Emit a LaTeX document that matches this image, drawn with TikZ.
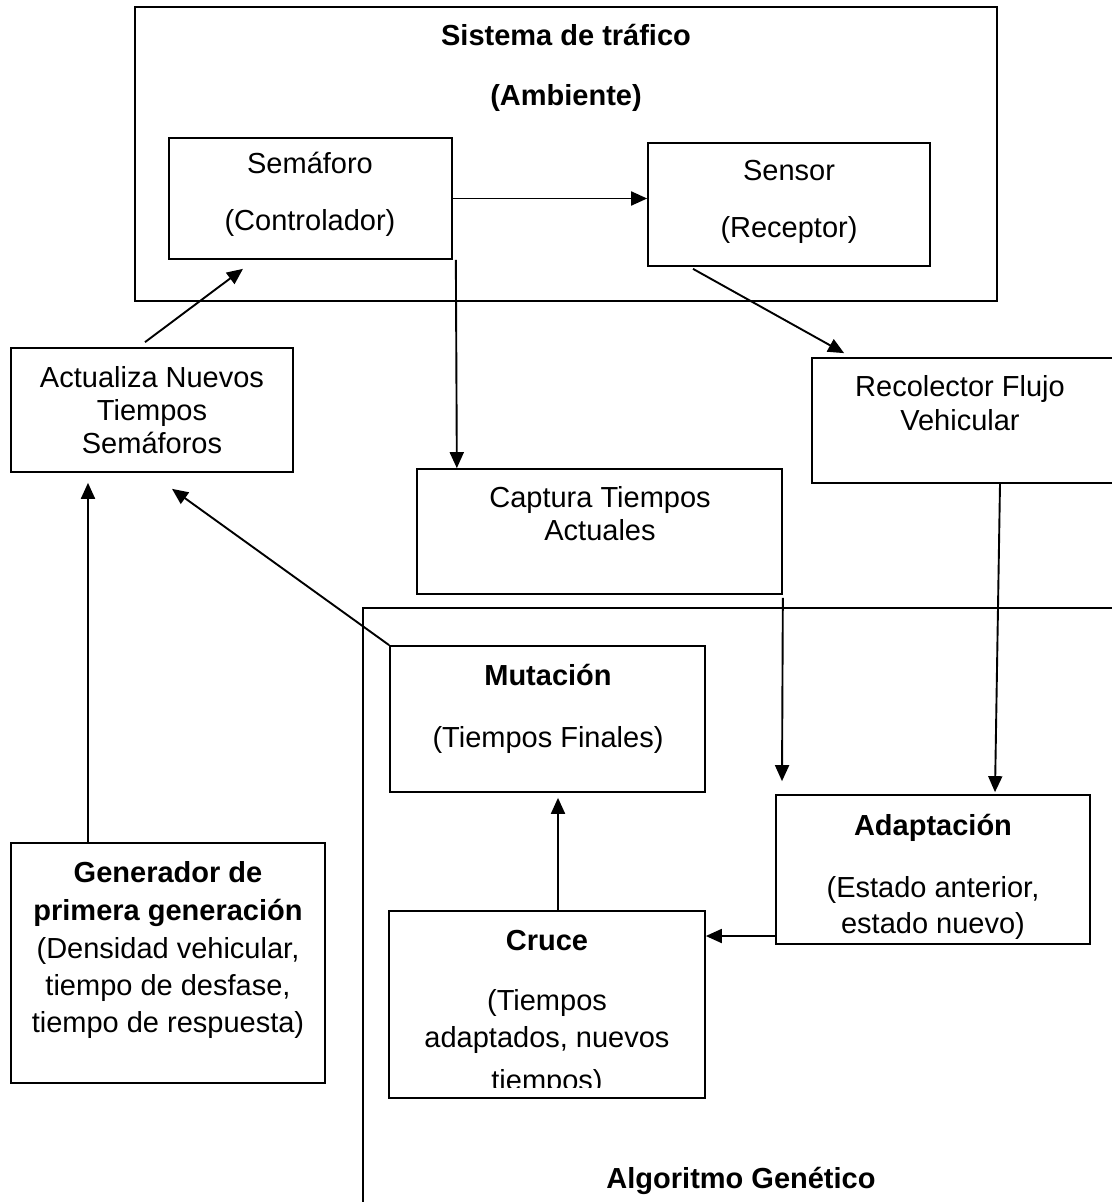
\documentclass[tikz,border=0pt]{standalone}
\usepackage{fontspec}
\setmainfont{Liberation Sans}
\usetikzlibrary{arrows.meta}
\begin{document}
\begin{tikzpicture}[x=1pt,y=-1pt,
  box/.style={draw, line width=1.7pt, inner sep=0pt, rectangle},
  lbl/.style={anchor=base, inner sep=0pt, font=\fontsize{29}{33}\selectfont},
  blbl/.style={anchor=base, inner sep=0pt, font=\fontsize{29}{33}\selectfont\bfseries},
  arr/.style={line width=1.9pt, -{Triangle[length=16pt,width=14pt]}},
  link/.style={line width=1.7pt}]
\useasboundingbox (0,0) rectangle (1111,1202);

% traffic system (environment)
\node[box, minimum width=862pt, minimum height=294pt] (sis) at (566,154) {};
\node[blbl] (sisT1) at (566,45) {Sistema de tráfico};
\node[blbl] (sisT2) at (566,105) {(Ambiente)};

\node[box, minimum width=283pt, minimum height=121pt] (sem) at (310.5,198.5) {};
\node[lbl] (semT1) at (310,173) {Semáforo};
\node[lbl] (semT2) at (310,230) {(Controlador)};

\node[box, minimum width=282pt, minimum height=123pt] (sen) at (789,204.5) {};
\node[lbl] (senT1) at (789,180) {Sensor};
\node[lbl] (senT2) at (789,237) {(Receptor)};

% outside boxes
\node[box, minimum width=282pt, minimum height=124pt] (act) at (152,410) {};
\node[lbl] (actT1) at (152,387) {Actualiza Nuevos};
\node[lbl] (actT2) at (152,420) {Tiempos};
\node[lbl] (actT3) at (152,453) {Semáforos};

\node[box, minimum width=305pt, minimum height=125pt] (rec) at (964.5,420.5) {};
\node[lbl] (recT1) at (960,396) {Recolector Flujo};
\node[lbl] (recT2) at (960,430) {Vehicular};

\node[box, minimum width=365pt, minimum height=125pt] (cap) at (599.5,531.5) {};
\node[lbl] (capT1) at (600,507) {Captura Tiempos};
\node[lbl] (capT2) at (600,540) {Actuales};

\node[box, minimum width=314pt, minimum height=240pt] (gen) at (168,963) {};
\node[blbl] (genT1) at (168,882) {Generador de};
\node[blbl] (genT2) at (168,920) {primera generación};
\node[lbl] (genT3) at (168,958) {(Densidad vehicular,};
\node[lbl] (genT4) at (168,995) {tiempo de desfase,};
\node[lbl] (genT5) at (168,1032) {tiempo de respuesta)};

% genetic algorithm region
\coordinate (gaR) at (1116,608);
\coordinate (gaC) at (363,608);
\coordinate (gaB) at (363,1210);
\draw[link] (gaR) -- (gaC) -- (gaB);
\node[blbl] (gaT) at (741,1188) {Algoritmo Genético};

\node[box, minimum width=315pt, minimum height=146pt] (mut) at (547.5,719) {};
\node[blbl] (mutT1) at (548,685) {Mutación};
\node[lbl] (mutT2) at (548,747) {(Tiempos Finales)};

\node[box, minimum width=314pt, minimum height=149pt] (ada) at (933,869.5) {};
\node[blbl] (adaT1) at (933,835) {Adaptación};
\node[lbl] (adaT2) at (933,897) {(Estado anterior,};
\node[lbl] (adaT3) at (933,933) {estado nuevo)};

\node[box, minimum width=316pt, minimum height=187pt] (cru) at (547,1004.5) {};
\node[blbl] (cruT1) at (547,950) {Cruce};
\node[lbl] (cruT2) at (547,1010) {(Tiempos};
\node[lbl] (cruT3) at (547,1047) {adaptados, nuevos};
\begin{scope}
  \clip (380,1055) rectangle (720,1087);
  \node[lbl] (cruT4) at (547,1090) {tiempos)};
\end{scope}

% connectors
\draw[arr] (sem.east) -- (sem.east -| sen.west);
\draw[arr] ([xshift=-7pt,yshift=5pt]act.north) -- ([xshift=-67.5pt,yshift=-9pt]sem.south);
\draw[arr] ([xshift=3pt]sem.south east) -- ([xshift=4pt]sem.south east |- cap.north);
\draw[arr] ([xshift=-96pt,yshift=-2pt]sen.south) -- ([xshift=33pt,yshift=4pt]rec.north west);
\draw[arr] ([xshift=35.5pt]rec.south) -- ([xshift=62pt,yshift=2pt]ada.north);
\draw[arr] ([yshift=-3pt]cap.south east) -- ([xshift=-151pt,yshift=13pt]ada.north);
\draw[arr] (mut.north west) -- ([xshift=20pt,yshift=-16pt]act.south);
\coordinate (adaL) at (776,936);
\draw[arr] (adaL) -- (adaL -| cru.east);
\draw[arr] ([xshift=11pt]cru.north) -- ([xshift=10.5pt,yshift=-5pt]mut.south);
\draw[arr] ([xshift=-80pt]gen.north) -- ([xshift=-64pt,yshift=-10pt]act.south);
\end{tikzpicture}
\end{document}
